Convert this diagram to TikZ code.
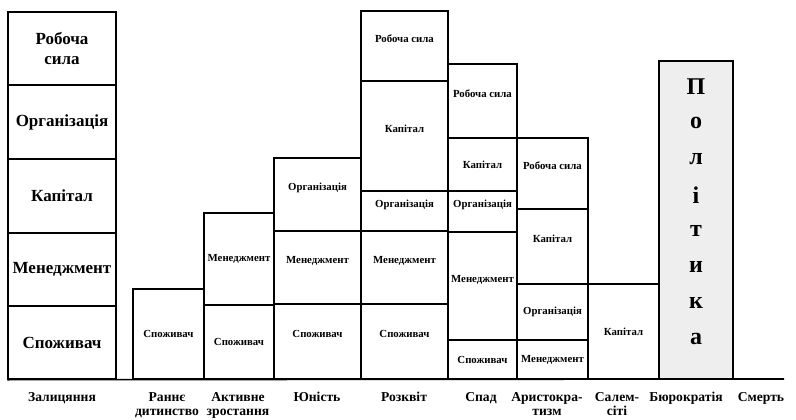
\documentclass[tikz,border=0pt]{standalone}
\usepackage{fontspec}
\setmainfont{Liberation Serif}
\tikzstyle{bigcell} = [rectangle, draw=black, line width=1.4pt, inner sep=0pt, align=center, font=\fontsize{17}{20}\selectfont\bfseries]
\tikzstyle{cell} = [rectangle, draw=black, line width=1.4pt, inner sep=0pt, align=center, font=\fontsize{10.8}{13}\selectfont\bfseries]
\tikzstyle{raised} = [text depth=15pt]
\tikzstyle{stage} = [anchor=north, inner sep=0pt, align=center, font=\fontsize{13.6}{14}\selectfont\bfseries]
\tikzstyle{letter} = [inner sep=0pt, font=\fontsize{24}{24}\selectfont\bfseries]

\begin{document}
\begin{tikzpicture}[x=1pt, y=-1pt]
		\useasboundingbox (0,0) rectangle (796,420);
		% Залицяння
		\node (z1) [bigcell, minimum width=108pt, minimum height=73pt] at (62,48.5) {Робоча\\сила};
		\node (z2) [bigcell, minimum width=108pt, minimum height=74pt] at (62,122) {Організація};
		\node (z3) [bigcell, minimum width=108pt, minimum height=74pt] at (62,196) {Капітал};
		\node (z4) [bigcell, minimum width=108pt, minimum height=73pt] at (62,269.5) {Менеджмент};
		\node (z5) [bigcell, minimum width=108pt, minimum height=73pt] at (62,342.5) {Споживач};
		% Раннє дитинство
		\node (r1) [cell, minimum width=71pt, minimum height=90pt] at (168.5,334) {Споживач};
		% Активне зростання
		\node (a1) [cell, minimum width=70pt, minimum height=92pt] at (239,259) {Менеджмент};
		\node (a2) [cell, minimum width=70pt, minimum height=74pt] at (239,342) {Споживач};
		% Юність
		\node (y1) [cell, raised, minimum width=87pt, minimum height=73pt] at (317.5,194.5) {Організація};
		\node (y2) [cell, raised, minimum width=87pt, minimum height=73pt] at (317.5,267.5) {Менеджмент};
		\node (y3) [cell, raised, minimum width=87pt, minimum height=75pt] at (317.5,341.5) {Споживач};
		% Розквіт
		\node (k1) [cell, raised, minimum width=87pt, minimum height=70pt] at (404.5,46) {Робоча сила};
		\node (k2) [cell, raised, minimum width=87pt, minimum height=110pt] at (404.5,136) {Капітал};
		\node (k3) [cell, raised, minimum width=87pt, minimum height=40pt] at (404.5,211) {Організація};
		\node (k4) [cell, raised, minimum width=87pt, minimum height=73pt] at (404.5,267.5) {Менеджмент};
		\node (k5) [cell, raised, minimum width=87pt, minimum height=75pt] at (404.5,341.5) {Споживач};
		% Спад
		\node (s1) [cell, raised, minimum width=69pt, minimum height=74pt] at (482.5,101) {Робоча сила};
		\node (s2) [cell, minimum width=69pt, minimum height=53pt] at (482.5,164.5) {Капітал};
		\node (s3) [cell, raised, minimum width=69pt, minimum height=41pt] at (482.5,211.5) {Організація};
		\node (s4) [cell, raised, minimum width=69pt, minimum height=108pt] at (482.5,286) {Менеджмент};
		\node (s5) [cell, minimum width=69pt, minimum height=39pt] at (482.5,359.5) {Споживач};
		% Аристократизм
		\node (t1) [cell, raised, minimum width=71pt, minimum height=71pt] at (552.5,173.5) {Робоча сила};
		\node (t2) [cell, raised, minimum width=71pt, minimum height=75pt] at (552.5,246.5) {Капітал};
		\node (t3) [cell, minimum width=71pt, minimum height=56pt] at (552.5,312) {Організація};
		\node (t4) [cell, minimum width=71pt, minimum height=39pt] at (552.5,359.5) {Менеджмент};
		% Салем-сіті
		\node (c1) [cell, minimum width=71pt, minimum height=95pt] at (623.5,331.5) {Капітал};
		% Бюрократія
		\node (b1) [cell, fill=gray!13, minimum width=74pt, minimum height=318pt] at (696,220) {};
		\foreach \ch [count=\i] in {П,о,л,і,т,и,к,а}
			\node (p\i) [letter] at (696,{51+36*\i}) {\ch};

		% baseline
		\coordinate (axisend) at (784,379);
		\draw [line width=1.6pt] (z5.south west) -- (axisend);

		% stages
		\node (n1) [stage] at (62,392) {Залицяння};
		\node (n2) [stage] at (167,392) {Раннє\\дитинство};
		\node (n3) [stage] at (238,392) {Активне\\зростання};
		\node (n4) [stage] at (317,392) {Юність};
		\node (n5) [stage] at (404,392) {Розквіт};
		\node (n6) [stage] at (481,392) {Спад};
		\node (n7) [stage] at (547,392) {Аристокра-\\тизм};
		\node (n8) [stage] at (617,392) {Салем-\\сіті};
		\node (n9) [stage] at (686,392) {Бюрократія};
		\node (n10) [stage] at (761,392) {Смерть};
	\end{tikzpicture}
\end{document}
